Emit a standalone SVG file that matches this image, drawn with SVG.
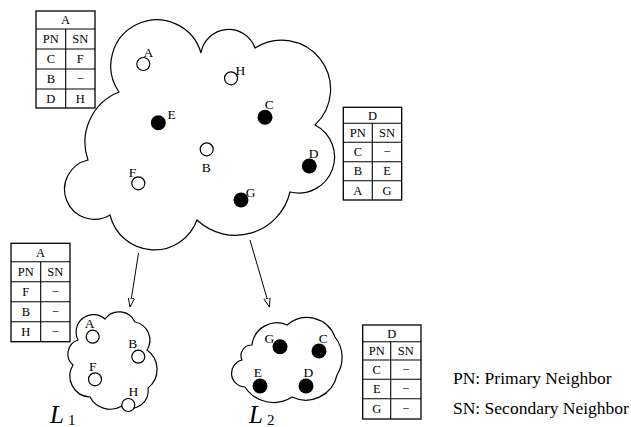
<svg xmlns="http://www.w3.org/2000/svg" width="631" height="427" viewBox="0 0 631 427">
<defs>
<style>
.cl{fill:none;stroke:#000;stroke-width:1.2}
.tb{fill:#fff;stroke:#000;stroke-width:1.3}
.ln{stroke:#000;stroke-width:1.1}
.t{font-family:"Liberation Serif","Times New Roman",serif;font-size:12.5px;text-anchor:middle;fill:#000}
.lb{font-family:"Liberation Serif","Times New Roman",serif;font-size:13.5px;fill:#000}
.lg{font-family:"Liberation Serif","Times New Roman",serif;font-size:17.5px;fill:#000}
.L{font-family:"Liberation Serif","Times New Roman",serif;font-style:italic;font-size:25px;fill:#000}
.sub{font-family:"Liberation Serif","Times New Roman",serif;font-size:15px;fill:#000}
.op{fill:#fff;stroke:#000;stroke-width:1.2}
.fi{fill:#000}
.ar{fill:none;stroke:#000;stroke-width:1}
</style>
<marker id="ah" viewBox="0 0 10 10" refX="10" refY="5" markerWidth="9" markerHeight="9" markerUnits="userSpaceOnUse" orient="auto">
<path d="M0,1.5 L10,5 L0,8.5 Z" fill="#fff" stroke="#000" stroke-width="1"/>
</marker>
</defs>
<rect width="631" height="427" fill="#fff"/>

<g id="cloud-main">
<path class="cl" d="M119,92 A46,46 0 1 1 201,53 A28,28 0 0 1 255,48 A49,49 0 0 1 315,125 A36,36 0 0 1 290,192 A56,56 0 0 1 197,220 A45.5,45.5 0 0 1 110,215 A30,30 0 1 1 88,160 A54,54 0 0 1 119,92 Z"/>
</g>
<g id="cloud-L1">
<path class="cl" d="M105,319 A17.5,17.5 0 0 1 135,322 A18.5,18.5 0 0 1 147,350 A23.7,23.7 0 0 1 148,388 A17.5,17.5 0 0 1 122,406 A23,23 0 0 1 90,397 A21,21 0 0 1 73,365 A14.6,14.6 0 0 1 78,340 A17.4,17.4 0 0 1 105,319 Z"/>
</g>
<g id="cloud-L2">
<path class="cl" d="M252,345 A25,25 0 0 1 287,325 A30,30 0 0 1 335,337 A33,33 0 0 1 337,375 A32,32 0 0 1 292,397 A34,34 0 0 1 245,387 A13.7,13.7 0 0 1 242,360 A10.6,10.6 0 0 1 252,345 Z"/>
</g>

<g id="connectors">
<line class="ar" x1="138.5" y1="253" x2="130" y2="307" marker-end="url(#ah)"/>
<line class="ar" x1="250" y1="240" x2="269.5" y2="307" marker-end="url(#ah)"/>
</g>

<g id="node-A"><circle class="op" cx="143.3" cy="64" r="6.5"/><text class="lb" x="143.5" y="56.5">A</text></g>
<g id="node-H"><circle class="op" cx="231" cy="78.3" r="6.5"/><text class="lb" x="235.5" y="75">H</text></g>
<g id="node-E"><circle class="fi" cx="158.3" cy="122.7" r="7.5"/><text class="lb" x="167.5" y="119">E</text></g>
<g id="node-C"><circle class="fi" cx="265" cy="117.3" r="7.5"/><text class="lb" x="264.8" y="109">C</text></g>
<g id="node-B"><circle class="op" cx="206.7" cy="149.3" r="6.5"/><text class="lb" x="201.8" y="171.5">B</text></g>
<g id="node-D"><circle class="fi" cx="309.3" cy="166" r="7.5"/><text class="lb" x="308.8" y="157.5">D</text></g>
<g id="node-F"><circle class="op" cx="138.3" cy="183.3" r="6.5"/><text class="lb" x="128.7" y="176.5">F</text></g>
<g id="node-G"><circle class="fi" cx="241" cy="200" r="7.5"/><text class="lb" x="245.8" y="196.5">G</text></g>

<g id="L1-A"><circle class="op" cx="92.7" cy="336.7" r="6.5"/><text class="lb" x="84.8" y="327.5">A</text></g>
<g id="L1-B"><circle class="op" cx="138.3" cy="356.7" r="6.5"/><text class="lb" x="128.2" y="347.5">B</text></g>
<g id="L1-F"><circle class="op" cx="95" cy="379.3" r="6.5"/><text class="lb" x="89" y="371">F</text></g>
<g id="L1-H"><circle class="op" cx="128.3" cy="405" r="6.5"/><text class="lb" x="128.5" y="396">H</text></g>

<g id="L2-G"><circle class="fi" cx="280" cy="346.7" r="7.5"/><text class="lb" x="264.5" y="343">G</text></g>
<g id="L2-C"><circle class="fi" cx="319" cy="351" r="7.5"/><text class="lb" x="318.8" y="343">C</text></g>
<g id="L2-E"><circle class="fi" cx="260" cy="386" r="7.5"/><text class="lb" x="253.8" y="376.5">E</text></g>
<g id="L2-D"><circle class="fi" cx="306" cy="386" r="7.5"/><text class="lb" x="303.5" y="376.5">D</text></g>

<g id="label-L1"><text class="L" x="50" y="423">L</text><text class="sub" x="68" y="425">1</text></g>
<g id="label-L2"><text class="L" x="249" y="423">L</text><text class="sub" x="267" y="425">2</text></g>

<g id="table-A-top">
<rect class="tb" x="36" y="11" width="59" height="97"/>
<line class="ln" x1="36" y1="29" x2="95" y2="29"/>
<line class="ln" x1="36" y1="49" x2="95" y2="49"/>
<line class="ln" x1="36" y1="69" x2="95" y2="69"/>
<line class="ln" x1="36" y1="89" x2="95" y2="89"/>
<line class="ln" x1="65.7" y1="29" x2="65.7" y2="108"/>
<text class="t" x="65.5" y="24.2">A</text>
<text class="t" x="50.8" y="43.2">PN</text><text class="t" x="80.3" y="43.2">SN</text>
<text class="t" x="50.8" y="63.2">C</text><text class="t" x="80.3" y="63.2">F</text>
<text class="t" x="50.8" y="83.2">B</text><text class="t" x="80.3" y="83.2">−</text>
<text class="t" x="50.8" y="102.7">D</text><text class="t" x="80.3" y="102.7">H</text>
</g>

<g id="table-D-mid">
<rect class="tb" x="343.3" y="107.3" width="58.4" height="92.7"/>
<line class="ln" x1="343.3" y1="123.3" x2="401.7" y2="123.3"/>
<line class="ln" x1="343.3" y1="142.3" x2="401.7" y2="142.3"/>
<line class="ln" x1="343.3" y1="161.7" x2="401.7" y2="161.7"/>
<line class="ln" x1="343.3" y1="180.7" x2="401.7" y2="180.7"/>
<line class="ln" x1="372.3" y1="123.3" x2="372.3" y2="200"/>
<text class="t" x="372.5" y="119.5">D</text>
<text class="t" x="357.8" y="137">PN</text><text class="t" x="387" y="137">SN</text>
<text class="t" x="357.8" y="156.2">C</text><text class="t" x="387" y="156.2">−</text>
<text class="t" x="357.8" y="175.4">B</text><text class="t" x="387" y="175.4">E</text>
<text class="t" x="357.8" y="194.5">A</text><text class="t" x="387" y="194.5">G</text>
</g>

<g id="table-A-low">
<rect class="tb" x="11" y="243.3" width="59" height="98.4"/>
<line class="ln" x1="11" y1="261.7" x2="70" y2="261.7"/>
<line class="ln" x1="11" y1="281.7" x2="70" y2="281.7"/>
<line class="ln" x1="11" y1="301.7" x2="70" y2="301.7"/>
<line class="ln" x1="11" y1="321.7" x2="70" y2="321.7"/>
<line class="ln" x1="40.7" y1="261.7" x2="40.7" y2="341.7"/>
<text class="t" x="40.5" y="256.7">A</text>
<text class="t" x="25.8" y="275.9">PN</text><text class="t" x="55.3" y="275.9">SN</text>
<text class="t" x="25.8" y="295.9">F</text><text class="t" x="55.3" y="295.9">−</text>
<text class="t" x="25.8" y="315.9">B</text><text class="t" x="55.3" y="315.9">−</text>
<text class="t" x="25.8" y="335.9">H</text><text class="t" x="55.3" y="335.9">−</text>
</g>

<g id="table-D-low">
<rect class="tb" x="362.7" y="325" width="58.3" height="94"/>
<line class="ln" x1="362.7" y1="341.7" x2="421" y2="341.7"/>
<line class="ln" x1="362.7" y1="360" x2="421" y2="360"/>
<line class="ln" x1="362.7" y1="379.3" x2="421" y2="379.3"/>
<line class="ln" x1="362.7" y1="398.7" x2="421" y2="398.7"/>
<line class="ln" x1="390.7" y1="341.7" x2="390.7" y2="419"/>
<text class="t" x="391.8" y="337.5">D</text>
<text class="t" x="376.7" y="355">PN</text><text class="t" x="405.8" y="355">SN</text>
<text class="t" x="376.7" y="373.8">C</text><text class="t" x="405.8" y="373.8">−</text>
<text class="t" x="376.7" y="393.2">E</text><text class="t" x="405.8" y="393.2">−</text>
<text class="t" x="376.7" y="413">G</text><text class="t" x="405.8" y="413">−</text>
</g>

<g id="legend">
<text class="lg" x="453" y="383.5">PN: Primary Neighbor</text>
<text class="lg" x="453" y="413.5">SN: Secondary Neighbor</text>
</g>
</svg>
